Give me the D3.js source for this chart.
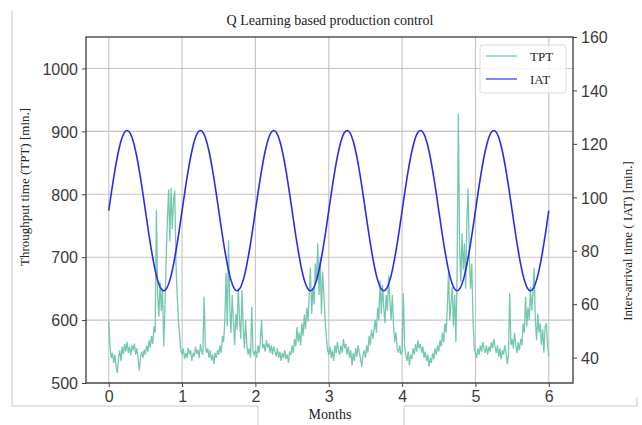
<!DOCTYPE html>
<html>
<head>
<meta charset="utf-8">
<script src="https://cdn.jsdelivr.net/npm/d3@7"></script>
<style>
  body { margin: 0; background: #fff; }
  svg { display: block; }
</style>
</head>
<body>
<svg id="chart" width="642" height="425"></svg>
<script>
// months on the x axis, one TPT sample every 1/60 month, IAT every 1/24 month
let tptPerMonth = 60;
let iatPerMonth = 24;

let xTicks = [0, 1, 2, 3, 4, 5, 6];
let leftTicks = [500, 600, 700, 800, 900, 1000];
let rightTicks = [40, 60, 80, 100, 120, 140, 160];

// throughput time
let tpt = [
  598, 560, 540, 548, 532, 545, 525, 516, 540, 552, 535, 558, 546, 562, 550, 566, 548, 558, 544, 560,
  552, 563, 545, 555, 538, 520, 542, 550, 540, 553, 545, 560, 550, 568, 556, 575, 562, 590, 580, 775,
  640, 605, 660, 615, 650, 558, 620, 700, 760, 808, 725, 810, 745, 790, 806, 690, 640, 600, 575, 552,
  // month 1
  545, 555, 538, 548, 540, 556, 545, 552, 535, 548, 542, 558, 546, 553, 540, 562, 550, 545, 637, 560,
  548, 555, 540, 552, 536, 545, 530, 548, 540, 552, 545, 560, 548, 575, 565, 600, 675, 590, 727, 620,
  580, 640, 600, 560, 610, 585, 650, 600, 570, 648, 590, 555, 600, 560, 545, 555, 540, 621, 550, 545,
  // month 2
  552, 540, 560, 548, 565, 600, 555, 562, 550, 568, 556, 563, 548, 560, 545, 558, 550, 542, 555, 540,
  550, 535, 548, 540, 552, 538, 545, 532, 550, 545, 560, 548, 570, 558, 589, 565, 580, 560, 595, 575,
  609, 585, 620, 598, 640, 683, 610, 650, 625, 690, 660, 722, 640, 700, 610, 676, 640, 600, 575, 552,
  // month 3
  545, 558, 540, 552, 535, 560, 548, 565, 552, 545, 560, 548, 570, 555, 562, 545, 558, 540, 552, 528,
  548, 535, 555, 542, 560, 548, 538, 526, 545, 552, 540, 560, 548, 575, 560, 585, 570, 584, 600, 580,
  620, 600, 663, 610, 656, 620, 595, 640, 615, 671, 630, 600, 640, 590, 565, 580, 555, 548, 560, 545,
  // month 4
  550, 643, 560, 545, 535, 550, 528, 545, 538, 555, 545, 562, 550, 568, 555, 562, 548, 558, 540, 550,
  535, 545, 526, 540, 532, 548, 538, 555, 545, 560, 550, 568, 558, 580, 565, 595, 580, 620, 677, 600,
  626, 653, 590, 640, 565, 680, 928, 720, 660, 738, 680, 722, 650, 760, 809, 700, 650, 690, 600, 555,
  // month 5
  548, 540, 555, 545, 560, 550, 565, 555, 548, 560, 545, 558, 550, 565, 555, 570, 558, 548, 560, 542,
  555, 538, 552, 545, 560, 548, 530, 545, 643, 560, 570, 555, 580, 560, 548, 565, 552, 570, 560, 595,
  580, 637, 590, 620, 600, 653, 615, 640, 683, 600, 568, 610, 580, 595, 560, 585, 548, 590, 595, 560,
  542
];

// inter-arrival time
let iat = [
  95, 102.8, 110, 116.2, 121, 124, 125, 124, 121, 116.2, 110, 102.8, 95, 87.2, 80, 73.8, 69, 66, 65, 66, 69, 73.8, 80, 87.2,
  95, 102.8, 110, 116.2, 121, 124, 125, 124, 121, 116.2, 110, 102.8, 95, 87.2, 80, 73.8, 69, 66, 65, 66, 69, 73.8, 80, 87.2,
  95, 102.8, 110, 116.2, 121, 124, 125, 124, 121, 116.2, 110, 102.8, 95, 87.2, 80, 73.8, 69, 66, 65, 66, 69, 73.8, 80, 87.2,
  95, 102.8, 110, 116.2, 121, 124, 125, 124, 121, 116.2, 110, 102.8, 95, 87.2, 80, 73.8, 69, 66, 65, 66, 69, 73.8, 80, 87.2,
  95, 102.8, 110, 116.2, 121, 124, 125, 124, 121, 116.2, 110, 102.8, 95, 87.2, 80, 73.8, 69, 66, 65, 66, 69, 73.8, 80, 87.2,
  95, 102.8, 110, 116.2, 121, 124, 125, 124, 121, 116.2, 110, 102.8, 95, 87.2, 80, 73.8, 69, 66, 65, 66, 69, 73.8, 80, 87.2,
  95
];

let svg = d3.select("#chart");
let margin = {top: 37, right: 69, bottom: 42, left: 86};
let width = +svg.attr("width") - margin.left - margin.right;
let height = +svg.attr("height") - margin.top - margin.bottom;

let serif = "'Liberation Serif', 'DejaVu Serif', serif";
let sans = "'Liberation Sans', Arial, sans-serif";
let tptColor = "#66c2a5";
let iatColor = "#2b2bf0";

// light grey frame left over around the figure
let frame = svg.append("g")
    .attr("fill", "none")
    .attr("stroke", "#c8c8c8")
    .attr("stroke-width", 1);
frame.append("path").attr("d", "M12,10 V406 H258 V425");
frame.append("path").attr("d", "M404,425 V406 H637 V397");

let g = svg.append("g").attr("transform", `translate(${margin.left}, ${margin.top})`);

let x = d3.scaleLinear().domain([-0.31, 6.33]).range([0, width]);
let yLeft = d3.scaleLinear().domain([500, 1050]).range([height, 0]);
let yRight = d3.scaleLinear().domain([30.5, 160]).range([height, 0]);

// grid
g.append("g")
    .selectAll("line")
    .data(xTicks)
    .enter().append("line")
    .attr("x1", d => x(d)).attr("x2", d => x(d))
    .attr("y1", 0).attr("y2", height)
    .attr("stroke", "#c4c4c4")
    .attr("stroke-width", 1.1);
g.append("g")
    .selectAll("line")
    .data(leftTicks)
    .enter().append("line")
    .attr("x1", 0).attr("x2", width)
    .attr("y1", d => yLeft(d)).attr("y2", d => yLeft(d))
    .attr("stroke", "#c4c4c4")
    .attr("stroke-width", 1.1);

let tptLine = d3.line()
    .x((d, i) => x(i / tptPerMonth))
    .y(d => yLeft(d));
let iatLine = d3.line()
    .x((d, i) => x(i / iatPerMonth))
    .y(d => yRight(d))
    .curve(d3.curveMonotoneX);

g.append("path")
    .datum(tpt)
    .attr("fill", "none")
    .attr("stroke", tptColor)
    .attr("stroke-opacity", 0.9)
    .attr("stroke-width", 1.3)
    .attr("d", tptLine);

g.append("path")
    .datum(iat)
    .attr("fill", "none")
    .attr("stroke", iatColor)
    .attr("stroke-width", 1.6)
    .attr("d", iatLine);

// axes
function styleAxis(sel) {
    sel.select(".domain").remove();
    sel.selectAll("line").attr("stroke", "#444").attr("stroke-width", 1);
    sel.selectAll("text")
        .attr("font-family", sans)
        .attr("font-size", 16)
        .attr("fill", "#3a3a3a");
}

g.append("g")
    .attr("transform", `translate(0, ${height})`)
    .call(d3.axisBottom(x).tickValues(xTicks).tickFormat(d3.format("d")).tickSize(4).tickPadding(4))
    .call(styleAxis);
g.append("g")
    .call(d3.axisLeft(yLeft).tickValues(leftTicks).tickFormat(d3.format("d")).tickSize(4).tickPadding(4))
    .call(styleAxis)
    .selectAll("text").attr("dy", "0.36em");
g.append("g")
    .attr("transform", `translate(${width}, 0)`)
    .call(d3.axisRight(yRight).tickValues(rightTicks).tickFormat(d3.format("d")).tickSize(4).tickPadding(4))
    .call(styleAxis)
    .selectAll("text").attr("dy", "0.36em");

g.append("rect")
    .attr("width", width)
    .attr("height", height)
    .attr("fill", "none")
    .attr("stroke", "#3a3a3a")
    .attr("stroke-width", 1.3);

// legend
let legend = g.append("g").attr("transform", `translate(${width - 93}, 8)`);
legend.append("rect")
    .attr("width", 86).attr("height", 48)
    .attr("rx", 3)
    .attr("fill", "#fff").attr("fill-opacity", 0.8)
    .attr("stroke", "#dcdcdc");
let legendItems = [["TPT", tptColor], ["IAT", iatColor]];
legend.selectAll("g.item")
    .data(legendItems)
    .enter().append("g")
    .attr("class", "item")
    .attr("transform", (d, i) => `translate(6, ${11 + i * 23})`)
    .each(function(d) {
        let item = d3.select(this);
        item.append("line")
            .attr("x1", 0).attr("x2", 31)
            .attr("stroke", d[1])
            .attr("stroke-opacity", 0.75)
            .attr("stroke-width", 1.6);
        item.append("text")
            .attr("x", 44).attr("dy", "0.35em")
            .attr("font-family", serif)
            .attr("font-size", 13)
            .attr("fill", "#222")
            .text(d[0]);
    });

// titles
svg.append("text")
    .attr("x", 330).attr("y", 25)
    .attr("text-anchor", "middle")
    .attr("font-family", serif)
    .attr("font-size", 14)
    .attr("fill", "#222")
    .text("Q Learning based production control");
svg.append("text")
    .attr("x", 330).attr("y", 419)
    .attr("text-anchor", "middle")
    .attr("font-family", serif)
    .attr("font-size", 14)
    .attr("fill", "#222")
    .text("Months");
svg.append("text")
    .attr("transform", "translate(29, 187) rotate(-90)")
    .attr("text-anchor", "middle")
    .attr("font-family", serif)
    .attr("font-size", 13)
    .attr("fill", "#222")
    .text("Throughput time (TPT) [min.]");
svg.append("text")
    .attr("transform", "translate(632, 241) rotate(-90)")
    .attr("text-anchor", "middle")
    .attr("font-family", serif)
    .attr("font-size", 13)
    .attr("fill", "#222")
    .text("Inter-arrival time ( IAT) [min.]");
</script>
</body>
</html>
